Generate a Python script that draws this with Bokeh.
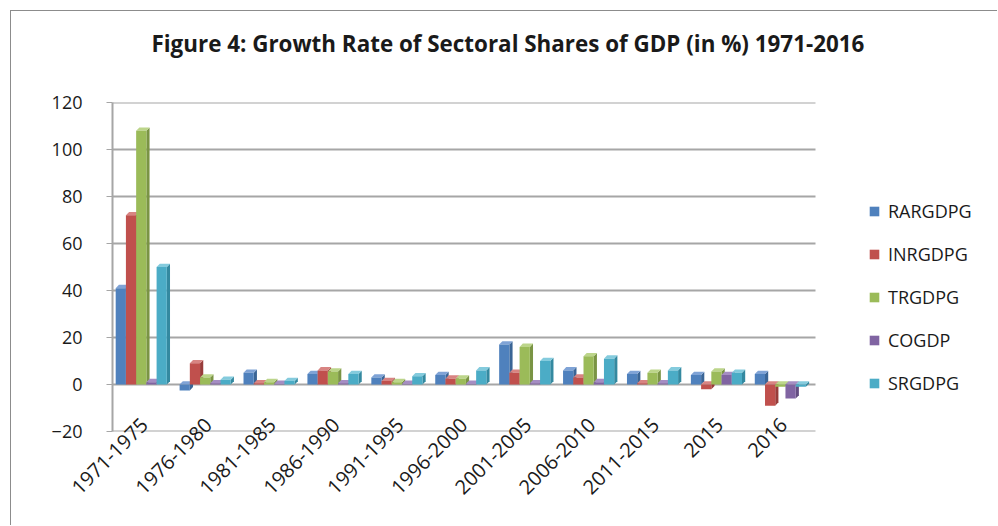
import math
from bokeh.plotting import figure
from bokeh.models import Legend, LegendItem, FixedTicker, ColumnDataSource, Title
from bokeh.embed import file_html
from bokeh.resources import INLINE

# ---- data ----
periods = ["1971-1975", "1976-1980", "1981-1985", "1986-1990", "1991-1995",
           "1996-2000", "2001-2005", "2006-2010", "2011-2015", "2015", "2016"]
series_names = ["RARGDPG", "INRGDPG", "TRGDPG", "COGDP", "SRGDPG"]
rargdpg = [41, -2.5, 5, 4.5, 3, 4, 17, 6, 4.5, 4, 4.5]
inrgdpg = [72, 9, 0.5, 6, 1.5, 2.5, 5, 3, 0.5, -2, -9]
trgdpg = [108, 3, 1, 5.5, 1, 2.5, 16, 12, 5, 5.5, -1]
cogdp = [1, 0.5, 0.3, 0.5, 0.3, 0.3, 0.5, 1, 0.5, 4, -6]
srgdpg = [50, 2, 1.5, 4.5, 3.5, 6, 10, 11, 6, 5, -1]
y_ticks = [-20, 0, 20, 40, 60, 80, 100, 120]

series_values = [rargdpg, inrgdpg, trgdpg, cogdp, srgdpg]
front_colors = ["#4F81BD", "#C0504D", "#9BBB59", "#8064A2", "#4BACC6"]
side_colors = ["#3A6596", "#983C3A", "#7A9444", "#634D80", "#3489A0"]
top_colors = ["#7FA3D6", "#D88482", "#BCD58A", "#A58DC3", "#84CBDD"]

FONT = "Open Sans"

# layout: plot area 703 px for the 11 groups, the frame is extended to the
# right edge so that the legend can sit inside it without being clipped
W, H = 987, 515
BL, BT, BB = 101, 91, 95
n = len(periods)
px_per_group = 703 / n
x_end = -0.5 + (W - BL) / px_per_group

p = figure(width=W, height=H, output_backend="svg", toolbar_location=None,
           x_range=(-0.5, x_end), y_range=(-20, 120),
           min_border_left=BL, min_border_right=0, min_border_top=BT,
           min_border_bottom=BB)
p.styles = {"border-top": "1px solid #8c8c8c", "border-left": "1px solid #8c8c8c",
            "margin-left": "10px", "margin-top": "10px"}
p.outline_line_color = None
p.background_fill_color = "white"

p.title.text = "Figure 4: Growth Rate of Sectoral Shares of GDP (in %) 1971-2016"
p.title.align = "left"
p.title.offset = 39
p.title.standoff = 10
p.title.text_font = FONT
p.title.text_font_size = "22.4px"
p.title.text_font_style = "bold"
p.title.text_color = "#1a1a1a"
# invisible spacer between the title and the plot area
p.add_layout(Title(text=" ", text_font_size="1px", standoff=36), "above")

# gridlines limited to the plot area (including the floor at -20)
p.segment(x0=[-0.5] * len(y_ticks), x1=[n - 0.5] * len(y_ticks), y0=y_ticks, y1=y_ticks,
          line_color="#a6a6a6", line_width=2)

w = 0.16
dx = 0.05
dy = 1.4
renderers = []
for k, (name, vals) in enumerate(zip(series_names, series_values)):
    xs = [i + (k - 2) * w - 0.05 for i in range(n)]
    side_x, side_y, top_x, top_y = [], [], [], []
    for x, v in zip(xs, vals):
        xl, xr = x - w / 2, x + w / 2
        t = v if v > 0 else 0
        lo = 0 if v > 0 else v
        side_x.append([xr, xr + dx, xr + dx, xr])
        side_y.append([lo, lo + dy, t + dy, t])
        top_x.append([xl, xl + dx, xr + dx, xr])
        top_y.append([t, t + dy, t + dy, t])
    p.patches(side_x, side_y, fill_color=side_colors[k], line_color=None)
    p.patches(top_x, top_y, fill_color=top_colors[k], line_color=None)
    src = ColumnDataSource(dict(x=xs, top=vals))
    r = p.vbar(x="x", top="top", bottom=0, width=w, source=src,
               fill_color=front_colors[k], line_color=None)
    renderers.append(r)

# axes
p.yaxis.ticker = FixedTicker(ticks=y_ticks)
p.xaxis.ticker = FixedTicker(ticks=list(range(n)))
p.xaxis.major_label_overrides = {i: lab for i, lab in enumerate(periods)}
p.xaxis.major_label_orientation = math.pi / 4
for ax in (p.xaxis, p.yaxis):
    ax.major_tick_line_color = "#a6a6a6"
    ax.minor_tick_line_color = None
    ax.major_label_text_font = FONT
    ax.major_label_text_color = "#1a1a1a"
p.yaxis.axis_line_color = "#a6a6a6"
p.yaxis.axis_line_width = 2
p.xaxis.axis_line_color = None
p.yaxis.major_label_text_font_size = "18px"
p.xaxis.major_label_text_font_size = "20px"
p.yaxis.major_tick_out = 6
p.yaxis.major_tick_in = 0
p.xaxis.major_tick_out = 0
p.xaxis.major_tick_in = 0
p.yaxis.major_label_standoff = 24
p.xaxis.major_label_standoff = -10

p.xgrid.grid_line_color = None
p.ygrid.grid_line_color = None

legend = Legend(items=[LegendItem(label=s, renderers=[r]) for s, r in zip(series_names, renderers)],
                location=(756, 36), orientation="vertical",
                glyph_width=12, glyph_height=12, label_standoff=8,
                label_height=24, spacing=19, padding=0, margin=0,
                border_line_color=None, background_fill_alpha=0,
                label_text_font=FONT, label_text_font_size="18px",
                label_text_color="#1a1a1a")
p.add_layout(legend, "center")

open("out.html", "w").write(file_html(p, INLINE))
